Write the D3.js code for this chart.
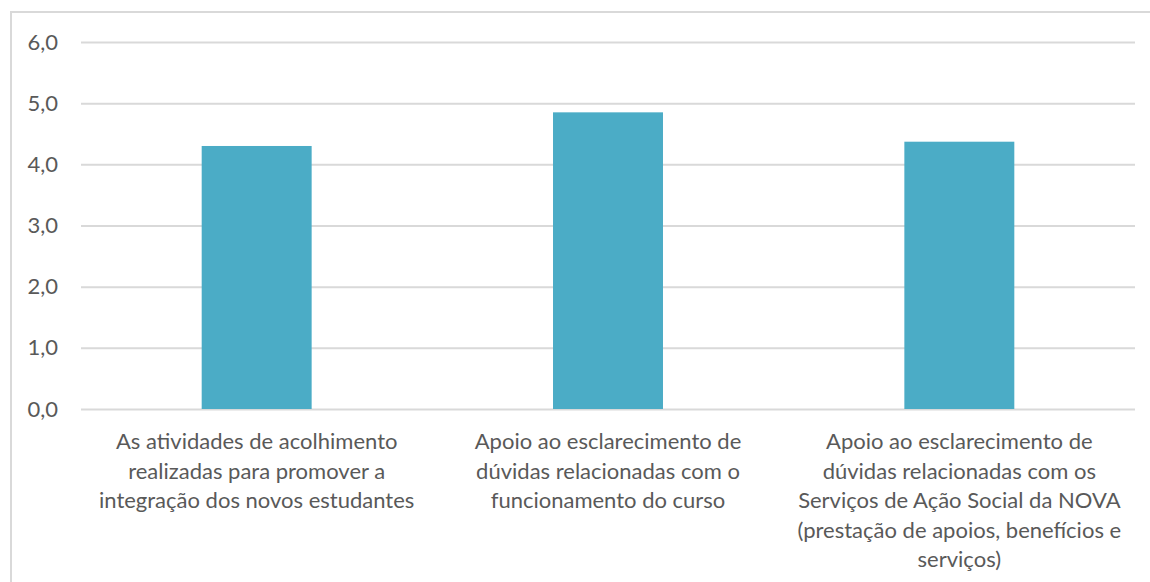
<!DOCTYPE html>
<html><head><meta charset="utf-8">
<script src="https://cdn.jsdelivr.net/npm/d3@7"></script>
<style>body{margin:0;background:#fff}svg{display:block}</style>
</head><body>
<svg id="c" width="1150" height="582"></svg>
<script>
const categories = [
  ["As atividades de acolhimento", "realizadas para promover a", "integração dos novos estudantes"],
  ["Apoio ao esclarecimento de", "dúvidas relacionadas com o", "funcionamento do curso"],
  ["Apoio ao esclarecimento de", "dúvidas relacionadas com os", "Serviços de Ação Social da NOVA", "(prestação de apoios, benefícios e", "serviços)"]
];
const values = [4.30, 4.85, 4.37];
const yTicks = [0, 1, 2, 3, 4, 5, 6];

(function () {
const svg = d3.select("#c");
const font = "Lato, 'Open Sans', sans-serif";
const mL = 81, mR = 1135, mT = 42, mB = 409;

svg.append("path").attr("d", "M11,582 V12 H1150").attr("fill", "none")
  .attr("stroke", "#d9d9d9").attr("stroke-width", 2);

const x = d3.scaleBand().domain(d3.range(values.length)).range([mL, mR]).paddingInner(0.687).paddingOuter(0.3435);
const y = d3.scaleLinear().domain([0, 6]).range([mB, mT]);

const fmt = d => d.toFixed(1).replace(".", ",");
const yAxis = d3.axisLeft(y).tickValues(yTicks).tickFormat(fmt).tickSize(-(mR - mL)).tickPadding(23);
const g = svg.append("g").attr("transform", `translate(${mL},0)`).call(yAxis);
g.select(".domain").remove();
g.selectAll(".tick line").attr("stroke", "#d9d9d9").attr("stroke-width", 2);
g.selectAll(".tick text").attr("fill", "#595959").style("font-family", font).style("font-size", "22px");

svg.append("g").selectAll("rect").data(values).join("rect")
  .attr("x", (d, i) => x(i)).attr("width", x.bandwidth())
  .attr("y", d => y(d)).attr("height", d => y(0) - y(d))
  .attr("fill", "#4bacc6");

const lab = svg.append("g");
categories.forEach((lines, i) => {
  const t = lab.append("text").attr("x", x(i) + x.bandwidth() / 2).attr("y", 449)
    .attr("text-anchor", "middle").attr("fill", "#595959")
    .style("font-family", font).style("font-size", "22px");
  lines.forEach((l, j) => t.append("tspan").attr("x", x(i) + x.bandwidth() / 2).attr("dy", j ? 29.5 : 0).text(l));
});
})();
</script>
</body></html>
